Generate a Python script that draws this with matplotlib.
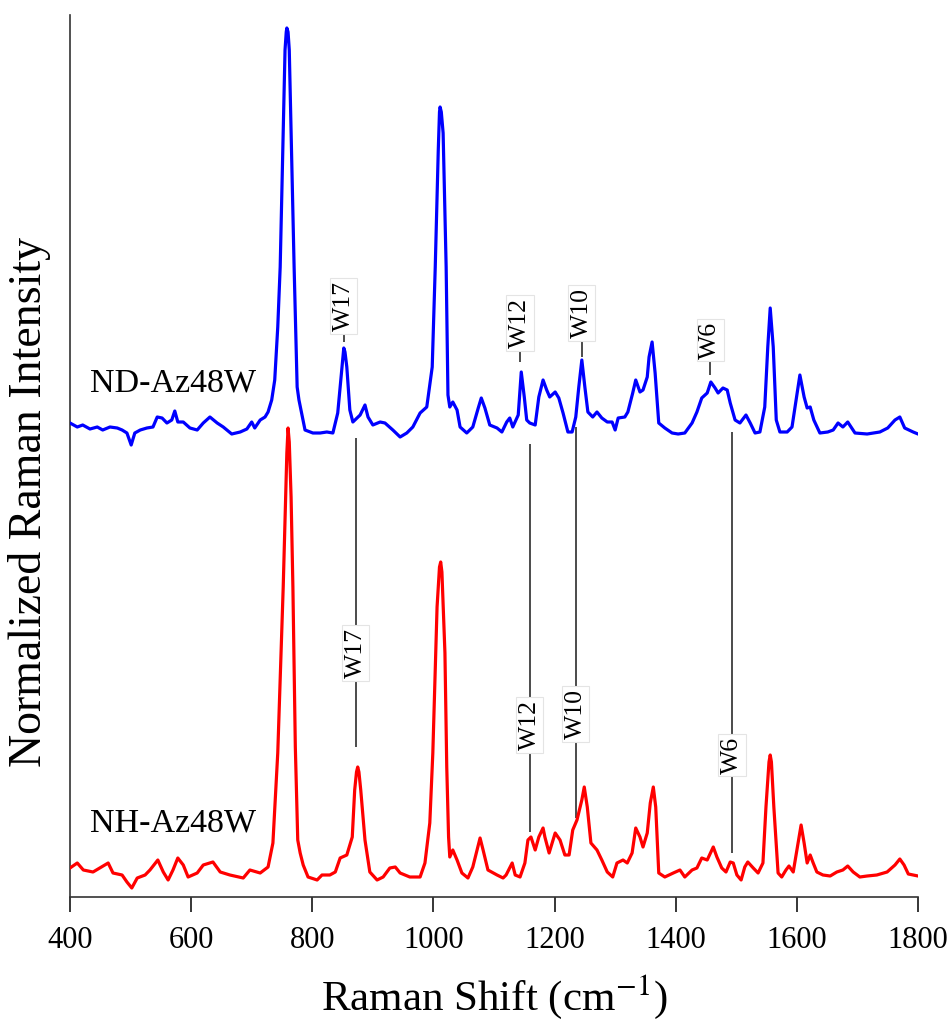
import numpy as np
import matplotlib.pyplot as plt

plt.rcParams['font.family'] = ['Liberation Serif', 'DejaVu Serif']
plt.rcParams['mathtext.fontset'] = 'stix'

# NH-Az48W spectrum (lower trace)
nh_shift = [400, 412, 422, 438, 463, 471, 486, 494, 502, 511, 524, 532, 545, 554, 562, 570,
            578, 587, 595, 610, 620, 636, 648, 664, 686, 697, 714, 727, 735, 743, 752, 756,
            758, 760, 762, 765, 768, 772, 776, 780, 785, 793, 808, 816, 829, 838, 846, 857,
            866, 870, 873, 875, 877, 880, 887, 895, 907, 917, 928, 937, 945, 961, 978, 986,
            994, 999, 1006, 1010, 1012, 1014, 1019, 1022, 1025, 1027, 1032, 1039, 1047, 1057,
            1065, 1072, 1077, 1082, 1090, 1105, 1115, 1120, 1130, 1135, 1143, 1151, 1156, 1161,
            1168, 1174, 1181, 1184, 1191, 1201, 1209, 1217, 1224, 1230, 1237, 1245, 1249, 1254,
            1260, 1270, 1278, 1287, 1296, 1303, 1313, 1320, 1328, 1334, 1341, 1346, 1353, 1358,
            1363, 1367, 1372, 1382, 1396, 1407, 1415, 1427, 1435, 1443, 1452, 1462, 1468, 1476,
            1483, 1490, 1495, 1501, 1508, 1514, 1519, 1528, 1536, 1544, 1549, 1554, 1556, 1558,
            1562, 1569, 1575, 1582, 1587, 1594, 1600, 1607, 1612, 1617, 1622, 1627, 1633, 1643,
            1655, 1666, 1676, 1684, 1693, 1704, 1716, 1732, 1749, 1762, 1770, 1777, 1784, 1800]
nh_int = [29, 34, 27, 25, 34, 24, 22, 15, 9, 19, 22, 27, 37, 25, 17, 27,
          39, 32, 20, 24, 32, 35, 25, 22, 19, 27, 24, 30, 54, 144, 310, 400,
          444, 469, 455, 400, 310, 150, 57, 44, 32, 20, 17, 22, 22, 25, 39, 42,
          60, 107, 125, 130, 125, 107, 57, 25, 17, 20, 29, 30, 24, 20, 20, 34,
          74, 144, 290, 330, 335, 325, 244, 130, 60, 40, 47, 37, 24, 19,
          30, 47, 59, 47, 27, 22, 19, 22, 34, 22, 20, 34, 57, 60,
          47, 60, 69, 60, 44, 64, 57, 42, 42, 67, 77, 97, 110, 90,
          54, 47, 37, 25, 20, 34, 37, 34, 44, 69, 60, 50, 64, 94,
          110, 90, 24, 20, 24, 27, 20, 27, 29, 39, 37, 50, 40, 29,
          25, 35, 34, 22, 17, 30, 35, 29, 24, 34, 90, 135, 142, 135,
          90, 24, 20, 27, 31, 25, 47, 72, 54, 34, 42, 34, 25, 22,
          21, 25, 27, 31, 25, 20, 21, 22, 25, 32, 38, 32, 23, 21]

# ND-Az48W spectrum (upper trace, drawn with an offset)
nd_shift = [400, 412, 421, 433, 445, 454, 466, 478, 486, 494, 501, 507, 516, 527, 537, 544,
            552, 560, 568, 573, 578, 587, 598, 610, 620, 631, 643, 653, 667, 681, 692, 700,
            705, 714, 722, 727, 733, 738, 743, 747, 752, 755, 757, 758, 760, 762, 765, 770,
            775, 778, 788, 801, 813, 824, 834, 842, 849, 852, 854, 857, 862, 867, 879, 887,
            892, 900, 912, 920, 933, 945, 956, 966, 978, 989, 998, 1003, 1008, 1010, 1011, 1013,
            1016, 1021, 1024, 1027, 1032, 1039, 1044, 1055, 1065, 1074, 1079, 1085, 1093, 1105,
            1113, 1121, 1126, 1131, 1140, 1145, 1150, 1154, 1159, 1168, 1174, 1181, 1187, 1192,
            1201, 1207, 1214, 1222, 1229, 1235, 1240, 1245, 1250, 1255, 1263, 1270, 1278, 1287,
            1295, 1300, 1305, 1316, 1321, 1329, 1334, 1341, 1346, 1353, 1356, 1361, 1366, 1372,
            1382, 1394, 1404, 1415, 1427, 1435, 1443, 1452, 1458, 1465, 1470, 1478, 1485, 1490,
            1498, 1506, 1516, 1523, 1531, 1539, 1547, 1552, 1556, 1561, 1566, 1572, 1584, 1592,
            1597, 1605, 1612, 1617, 1622, 1628, 1638, 1651, 1660, 1668, 1676, 1684, 1696, 1716,
            1737, 1750, 1762, 1770, 1778, 1792, 1800]
nd_int = [34, 30, 32, 28, 30, 27, 30, 29, 27, 24, 12, 24, 27, 29, 30, 40,
          39, 34, 37, 46, 35, 35, 29, 27, 34, 40, 34, 30, 23, 25, 28, 35,
          29, 37, 40, 45, 57, 77, 130, 190, 324, 407, 425, 429, 425, 407, 324, 190,
          70, 57, 27, 24, 24, 25, 24, 44, 90, 109, 105, 90, 47, 35, 42, 52,
          40, 32, 35, 34, 27, 20, 24, 30, 44, 50, 90, 190, 307, 345, 350, 345,
          324, 190, 62, 50, 55, 47, 30, 24, 30, 49, 59, 49, 32, 29,
          25, 35, 39, 30, 42, 85, 60, 37, 34, 32, 60, 77, 67, 60,
          65, 59, 44, 25, 25, 40, 70, 97, 70, 45, 40, 45, 39, 35,
          35, 27, 39, 40, 45, 64, 77, 65, 67, 80, 100, 115, 84, 34,
          29, 24, 23, 24, 34, 45, 59, 64, 75, 69, 64, 69, 67, 54,
          37, 34, 42, 34, 24, 25, 50, 110, 149, 110, 37, 25, 25, 30,
          50, 82, 60, 49, 50, 37, 24, 25, 27, 34, 30, 35, 24, 23,
          25, 29, 37, 40, 29, 25, 23]
nd_offset = 440

# tryptophan band markers
band_names = ['W17', 'W12', 'W10', 'W6']
# links between the two traces
link_shift = [872, 1159, 1235, 1493]
link_top = [459, 453, 470, 465]
link_bottom = [150, 65, 79, 44]
link_label_y = [244, 172, 183, 142]
# short ticks above the ND trace
nd_band_shift = [852, 1143, 1245, 1457]
nd_tick_lo = [555, 535, 540, 522]
nd_tick_hi = [567, 550, 560, 535]
nd_label_y = [591, 574, 584, 557]

fig = plt.figure(figsize=(9.52, 10.25), dpi=100)
ax = fig.add_axes([70 / 952, 128 / 1025, 848 / 952, 882 / 1025])

ax.plot(nh_shift, nh_int, color='#ff0000', lw=2.3, solid_joinstyle='round', zorder=3)
ax.plot(nd_shift, np.array(nd_int) + nd_offset, color='#0000ff', lw=2.3,
        solid_joinstyle='round', zorder=3)

box = dict(boxstyle='square,pad=0.1', facecolor='white', edgecolor='#e4e4e4', lw=0.8)
for name, x, y0, y1, ly in zip(band_names, link_shift, link_bottom, link_top, link_label_y):
    ax.vlines(x, y0, y1, color='#1a1a1a', lw=1.1, zorder=2)
    ax.text(x, ly, name, rotation=90, ha='center', va='center', fontsize=18.5,
            bbox=box, zorder=4)
for name, x, y0, y1, ly in zip(band_names, nd_band_shift, nd_tick_lo, nd_tick_hi, nd_label_y):
    ax.vlines(x, y0, y1, color='#1a1a1a', lw=1.1, zorder=2)
    ax.text(x, ly, name, rotation=90, ha='center', va='center', fontsize=18.5,
            bbox=box, zorder=4)

ax.text(433, 514, 'ND-Az48W', fontsize=24.5, ha='left', va='center')
ax.text(433, 74, 'NH-Az48W', fontsize=24.5, ha='left', va='center')

ax.set_xlim(400, 1800)
ax.set_ylim(0, 882)
ax.set_xticks(np.arange(400, 1801, 200))
ax.set_yticks([])
ax.tick_params(axis='x', direction='out', length=11, width=1.1, labelsize=22, pad=10)
for side in ['top', 'right']:
    ax.spines[side].set_visible(False)
for side in ['left', 'bottom']:
    ax.spines[side].set_linewidth(1.2)
    ax.spines[side].set_color('#333333')

ax.set_xlabel(r'Raman Shift (cm$^{-1}$)', fontsize=31, labelpad=13)
ax.set_ylabel('Normalized Raman Intensity', fontsize=33)
ax.yaxis.set_label_coords(-0.022, 0.448)

fig.savefig('out.png', dpi=100)
